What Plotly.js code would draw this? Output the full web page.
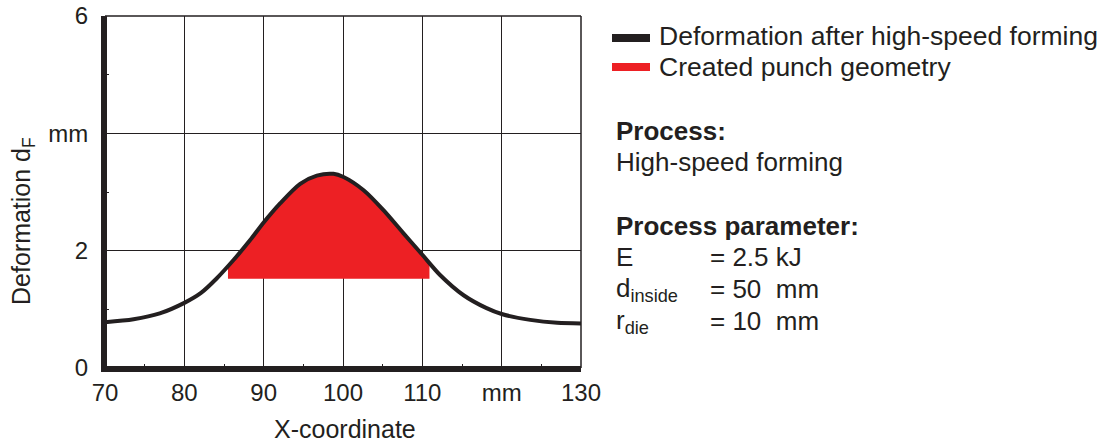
<!DOCTYPE html>
<html>
<head>
<meta charset="utf-8">
<script src="https://cdn.plot.ly/plotly-3.0.1.min.js"></script>
<style>html,body{margin:0;padding:0;background:#fff;}#chart{width:1105px;height:444px;}</style>
</head>
<body>
<div id="chart"></div>
<script>
// ---- data ----
const deformX = [70, 73.6, 76.9, 80, 82.1, 84.1, 86.2, 88.3, 90, 92.1, 94.6, 96.7, 98.8, 100, 102.6, 105.1, 107.6, 110, 112.2, 115.2, 118.1, 120, 123.6, 127, 130];
const deformY = [0.78, 0.83, 0.93, 1.11, 1.28, 1.53, 1.84, 2.18, 2.48, 2.81, 3.14, 3.28, 3.31, 3.26, 3.03, 2.69, 2.30, 1.93, 1.59, 1.24, 1.02, 0.92, 0.82, 0.77, 0.76];
const punchX = [85.5, 85.5, 86.2, 88.3, 90, 92.1, 94.6, 96.7, 98.8, 100, 102.6, 105.1, 107.6, 110, 110.9, 110.9];
const punchY = [1.52, 1.70, 1.84, 2.18, 2.48, 2.81, 3.14, 3.28, 3.31, 3.26, 3.03, 2.69, 2.30, 1.93, 1.76, 1.52];
const xTickVals = [70, 80, 90, 100, 110, 120, 130];
const xTickText = ["70", "80", "90", "100", "110", "mm", "130"];
const yTickVals = [0, 2, 4, 6];
const yTickText = ["0", "2", "mm", "6"];
const seriesNames = ["Deformation after high-speed forming", "Created punch geometry"];
const infoLines = [
  {label: "<b>Process:</b>", value: ""},
  {label: "High-speed forming", value: ""},
  {label: "<b>Process parameter:</b>", value: ""},
  {label: "E", value: "= 2.5 kJ"},
  {label: "d<sub>inside</sub>", value: "= 50  mm"},
  {label: "r<sub>die</sub>", value: "= 10  mm"}
];

const INK = "#231f20", RED = "#ed2024";
const FONT = "Liberation Sans, Arial, sans-serif";
const W = 1105, H = 444, L = 105, R = 581, T = 16, B = 368;
const px = x => (x - L) / (R - L);
const py = y => (B - y) / (B - T);

const traces = [
  {x: punchX, y: punchY, type: "scatter", mode: "lines", fill: "toself",
   fillcolor: RED, line: {color: RED, width: 0}, name: seriesNames[1], hoverinfo: "skip"},
  {x: deformX, y: deformY, type: "scatter", mode: "lines",
   line: {color: INK, width: 4, shape: "spline", smoothing: 0.8}, name: seriesNames[0]}
];

const ann = [];
function txt(text, x, y, opts) {
  ann.push(Object.assign({text: text, xref: "paper", yref: "paper", x: px(x), y: py(y),
    xanchor: "left", yanchor: "middle", showarrow: false,
    font: {family: FONT, size: 26, color: INK}}, opts || {}));
}
txt(seriesNames[0], 657, 36, {font: {family: FONT, size: 26.5, color: INK}});
txt(seriesNames[1], 657, 67, {font: {family: FONT, size: 26.5, color: INK}});
const infoY = [131, 162, 226, 257, 289, 321];
infoLines.forEach((l, i) => {
  txt(l.label, 614, infoY[i]);
  if (l.value) txt(l.value, 708, infoY[i]);
});
txt("Deformation d<sub>F</sub>", 23, 221, {xanchor: "center", textangle: -90, font: {family: FONT, size: 25, color: INK}});
txt("X-coordinate", 345, 429, {xanchor: "center", font: {family: FONT, size: 25, color: INK}});

const shapes = [
  {type: "line", xref: "paper", yref: "paper", x0: px(612), x1: px(650), y0: py(38), y1: py(38), line: {color: INK, width: 8}},
  {type: "line", xref: "paper", yref: "paper", x0: px(612), x1: px(650), y0: py(67), y1: py(67), line: {color: RED, width: 8}},
  {type: "line", xref: "paper", yref: "paper", x0: 0, x1: 1, y0: 1, y1: 1, line: {color: INK, width: 1.5}},
  {type: "line", xref: "paper", yref: "paper", x0: 1, x1: 1, y0: 0, y1: 1, line: {color: INK, width: 1.5}},
  {type: "line", xref: "paper", yref: "paper", x0: 0, x1: 0, y0: -0.005, y1: 1, line: {color: INK, width: 4}},
  {type: "line", xref: "paper", yref: "paper", x0: -0.003, x1: 1, y0: 0, y1: 0, line: {color: INK, width: 4}}
];

const layout = {
  width: W, height: H,
  margin: {l: L, r: W - R, t: T, b: H - B, pad: 0},
  paper_bgcolor: "#fff", plot_bgcolor: "#fff",
  showlegend: false,
  font: {family: FONT, color: INK, size: 24},
  xaxis: {range: [70, 130], tickvals: xTickVals, ticktext: xTickText,
    showgrid: true, gridcolor: INK, gridwidth: 1, zeroline: false,
    showline: true, linecolor: INK, linewidth: 4, ticks: "inside", ticklen: 0,
    tickfont: {family: FONT, size: 24, color: INK}, ticklabelstandoff: 0,
    minor: {dtick: 5, tick0: 70, ticks: "inside", ticklen: 4, tickcolor: INK, showgrid: false}},
  yaxis: {range: [0, 6], tickvals: yTickVals, ticktext: yTickText,
    showgrid: true, gridcolor: INK, gridwidth: 1, zeroline: false,
    showline: true, linecolor: INK, linewidth: 4, ticks: "inside", ticklen: 0,
    tickfont: {family: FONT, size: 24, color: INK}, ticklabelstandoff: 8,
    minor: {dtick: 1, tick0: 0, ticks: "inside", ticklen: 4, tickcolor: INK, showgrid: false}},
  annotations: ann,
  shapes: shapes
};

Plotly.newPlot("chart", traces, layout, {displayModeBar: false, staticPlot: true});
</script>
</body>
</html>
